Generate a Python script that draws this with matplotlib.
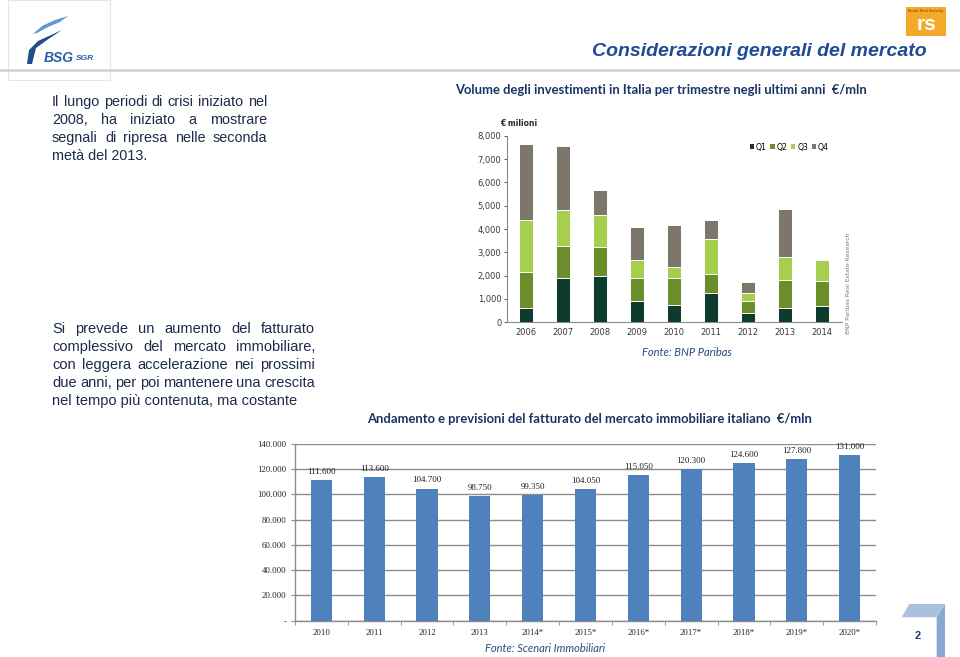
import numpy as np
import matplotlib
matplotlib.use("Agg")
import matplotlib.pyplot as plt
from matplotlib.patches import Polygon, Rectangle
from matplotlib.lines import Line2D

# investment volume per quarter (EUR mln), BNP Paribas
years_inv = ["2006", "2007", "2008", "2009", "2010", "2011", "2012", "2013", "2014"]
q1 = [600, 1900, 1980, 920, 730, 1250, 390, 620, 680]
q2 = [1550, 1350, 1240, 980, 1160, 820, 510, 1200, 1070]
q3 = [2250, 1550, 1380, 750, 500, 1480, 360, 990, 930]
q4 = [3230, 2760, 1080, 1440, 1800, 820, 470, 2060, 0]
quarters = ["Q1", "Q2", "Q3", "Q4"]
q_colors = ["#0c3d2c", "#6b8e2b", "#a6cf50", "#7d766b"]

# turnover of the Italian real estate market (EUR mln), Scenari Immobiliari
years_fat = ["2010", "2011", "2012", "2013", "2014*", "2015*", "2016*",
             "2017*", "2018*", "2019*", "2020*"]
fatturato = [111600, 113600, 104700, 98750, 99350, 104050, 115050,
             120300, 124600, 127800, 131000]

W, H = 960, 657
fig = plt.figure(figsize=(W / 100, H / 100), dpi=100)
fig.patch.set_facecolor("white")

NAVY = "#1c2b4a"
TITLE_BLUE = "#1f4a94"
HEAD_BLUE = "#1a3466"


def px(x, y):
    return x / W, 1 - y / H


def ftext(x, y, s, **kw):
    fx, fy = px(x, y)
    return fig.text(fx, fy, s, **kw)


def poly(points, **kw):
    fig.patches.append(Polygon([px(x, y) for x, y in points], closed=True,
                               transform=fig.transFigure, **kw))


# ---- slide decoration ----
fig.patches.append(Rectangle(px(8, 80), 102 / W, 80 / H, transform=fig.transFigure,
                             fill=False, edgecolor="#e4e6ea", linewidth=0.8))
fig.add_artist(Line2D([0, 1], [1 - 70 / H] * 2, color="#c9d1dc", linewidth=1.8))

poly([(33, 34), (42, 26), (55, 20), (68, 16), (60, 22), (48, 27), (37, 33)],
     facecolor="#5d9ad6", edgecolor="none")
poly([(27, 64), (29, 50), (38, 41), (62, 30), (47, 40), (36, 48), (32, 64)],
     facecolor="#1f4e8c", edgecolor="none")
ftext(44, 58, "BSG", fontsize=10, fontweight="bold", fontstyle="italic",
      color="#2a5ea8", va="center", family="Liberation Sans")
ftext(76, 59, "SGR", fontsize=6, fontweight="bold", fontstyle="italic",
      color="#2a5ea8", va="center", family="Liberation Sans")

fig.patches.append(Rectangle(px(906, 36), 40 / W, 29 / H, transform=fig.transFigure,
                             facecolor="#f5a92a", edgecolor="none"))
ftext(927, 25, "rs", fontsize=15, fontweight="bold", color="white",
      ha="center", va="center", family="Liberation Sans")
ftext(926, 11, "Smart Real Security", fontsize=2.5, color="#5a3a00",
      ha="center", va="center")

ftext(927, 51, "Considerazioni generali del mercato", fontsize=14,
      fontweight="bold", fontstyle="italic", color=TITLE_BLUE,
      ha="right", va="center", family="Liberation Sans")

poly([(901.7, 617.3), (909.3, 604), (945, 604), (936.7, 617.3)],
     facecolor="#aac1de", edgecolor="none")
poly([(936.7, 617.3), (945, 604), (945, 657), (936.7, 657)],
     facecolor="#86a8d2", edgecolor="none")
ftext(918, 636, "2", fontsize=8, fontweight="bold", color="#1f3a6e",
      ha="center", va="center", family="Liberation Sans")


# ---- justified body text ----
renderer = fig.canvas.get_renderer()


def justified(lines, x0, x1, y0, dy, size):
    kw = dict(fontsize=size, color=NAVY, family="Liberation Sans", va="baseline")
    for i, line in enumerate(lines):
        y = y0 + i * dy + 0.36 * size
        words = line.split()
        if i == len(lines) - 1:
            ftext(x0, y, line, **kw)
            continue
        widths = []
        for w in words:
            t = fig.text(0, 0, w, **kw)
            widths.append(t.get_window_extent(renderer).width)
            t.remove()
        gap = (x1 - x0 - sum(widths)) / (len(words) - 1)
        x = x0
        for w, wd in zip(words, widths):
            ftext(x, y, w, **kw)
            x += wd + gap


justified(["Il lungo periodi di crisi iniziato nel",
           "2008, ha iniziato a mostrare",
           "segnali di ripresa nelle seconda",
           "metà del 2013."], 52, 267, 102, 18, 10.4)
justified(["Si prevede un aumento del fatturato",
           "complessivo del mercato immobiliare,",
           "con leggera accelerazione nei prossimi",
           "due anni, per poi mantenere una crescita",
           "nel tempo più contenuta, ma costante"], 52, 315, 329, 18, 10.5)

head_kw = dict(fontsize=9.4, color=HEAD_BLUE, family="Lato", fontweight="bold",
               va="center")
ftext(455, 90, "Volume degli investimenti in Italia per trimestre negli ultimi anni  €/mln",
      **head_kw)
ftext(367, 419, "Andamento e previsioni del fatturato del mercato immobiliare italiano  €/mln",
      **head_kw)
src_kw = dict(fontsize=8, color="#2b4a80", family="Lato", fontstyle="italic",
              va="center")
ftext(642, 352, "Fonte: BNP Paribas", **src_kw)
ftext(485, 648, "Fonte: Scenari Immobiliari", **src_kw)

# ---- stacked investment chart ----
ax1 = fig.add_axes([507 / W, 1 - 322.3 / H, 335 / W, 186.6 / H])
x1 = np.arange(len(years_inv))
bottom = np.zeros(len(years_inv))
for name, vals, col in zip(quarters, [q1, q2, q3, q4], q_colors):
    vals = np.array(vals, dtype=float)
    ax1.bar(x1, vals, 0.38, bottom=bottom, color=col, edgecolor="white",
            linewidth=0.7, label=name)
    bottom += vals
ax1.set_xlim(-0.51, 8.54)
ax1.set_ylim(0, 8000)
ax1.set_yticks(np.arange(0, 8001, 1000))
ax1.set_yticklabels([f"{v:,}" for v in range(0, 8001, 1000)])
ax1.set_xticks(x1)
ax1.set_xticklabels(years_inv)
for s in ["top", "right"]:
    ax1.spines[s].set_visible(False)
for s in ["left", "bottom"]:
    ax1.spines[s].set_color("#8a8a8a")
    ax1.spines[s].set_linewidth(0.8)
ax1.tick_params(axis="both", labelsize=6, colors="#3a3a3a", length=2, width=0.6,
                pad=2)
ax1.tick_params(axis="x", length=0, pad=4)
leg = ax1.legend(loc="upper right", bbox_to_anchor=(0.97, 0.98), ncol=4,
                 frameon=False, fontsize=5.6, handlelength=0.55, handleheight=0.55,
                 handletextpad=0.25, columnspacing=0.45, borderaxespad=0)
for h in leg.legend_handles:
    h.set_edgecolor("none")
ftext(500, 126, "€ milioni", fontsize=5.5, color="#2a2a2a", fontweight="bold")
ftext(848, 283, "BNP Paribas Real Estate Research", fontsize=4.3, color="#7a7a7a",
      rotation=90, ha="center", va="center")

# ---- turnover chart ----
ax2 = fig.add_axes([295 / W, 1 - 620.7 / H, 581 / W, 176.7 / H])
x2 = np.arange(len(years_fat))
bars = ax2.bar(x2, fatturato, 0.4, color="#4f81bd", zorder=3)
for b, v in zip(bars, fatturato):
    ax2.annotate(f"{v:,}".replace(",", "."), (b.get_x() + b.get_width() / 2, v),
                 xytext=(0, 3), textcoords="offset points", ha="center",
                 va="bottom", fontsize=6.5, family="Liberation Serif",
                 color="#222222", zorder=4)
ax2.set_xlim(-0.5, 10.5)
ax2.set_ylim(0, 140000)
yt = np.arange(0, 140001, 20000)
ax2.set_yticks(yt)
ax2.set_yticklabels(["-"] + [f"{v:,}".replace(",", ".") for v in yt[1:]])
ax2.set_xticks(x2)
ax2.set_xticklabels(years_fat)
ax2.set_xticks(np.arange(-0.5, 10.6, 1), minor=True)
ax2.grid(axis="y", color="#8c8c8c", linewidth=1.0, zorder=0)
for s in ["top", "right"]:
    ax2.spines[s].set_visible(False)
for s in ["left", "bottom"]:
    ax2.spines[s].set_color("#8c8c8c")
    ax2.spines[s].set_linewidth(1.0)
ax2.tick_params(axis="both", labelsize=6.3, colors="#222222", pad=3)
ax2.tick_params(axis="y", length=3, color="#8c8c8c")
ax2.tick_params(axis="x", which="major", length=0, pad=6)
ax2.tick_params(axis="x", which="minor", length=3, color="#8c8c8c")
for lab in ax2.get_xticklabels() + ax2.get_yticklabels():
    lab.set_family("Liberation Serif")

fig.savefig("out.png", dpi=100)
